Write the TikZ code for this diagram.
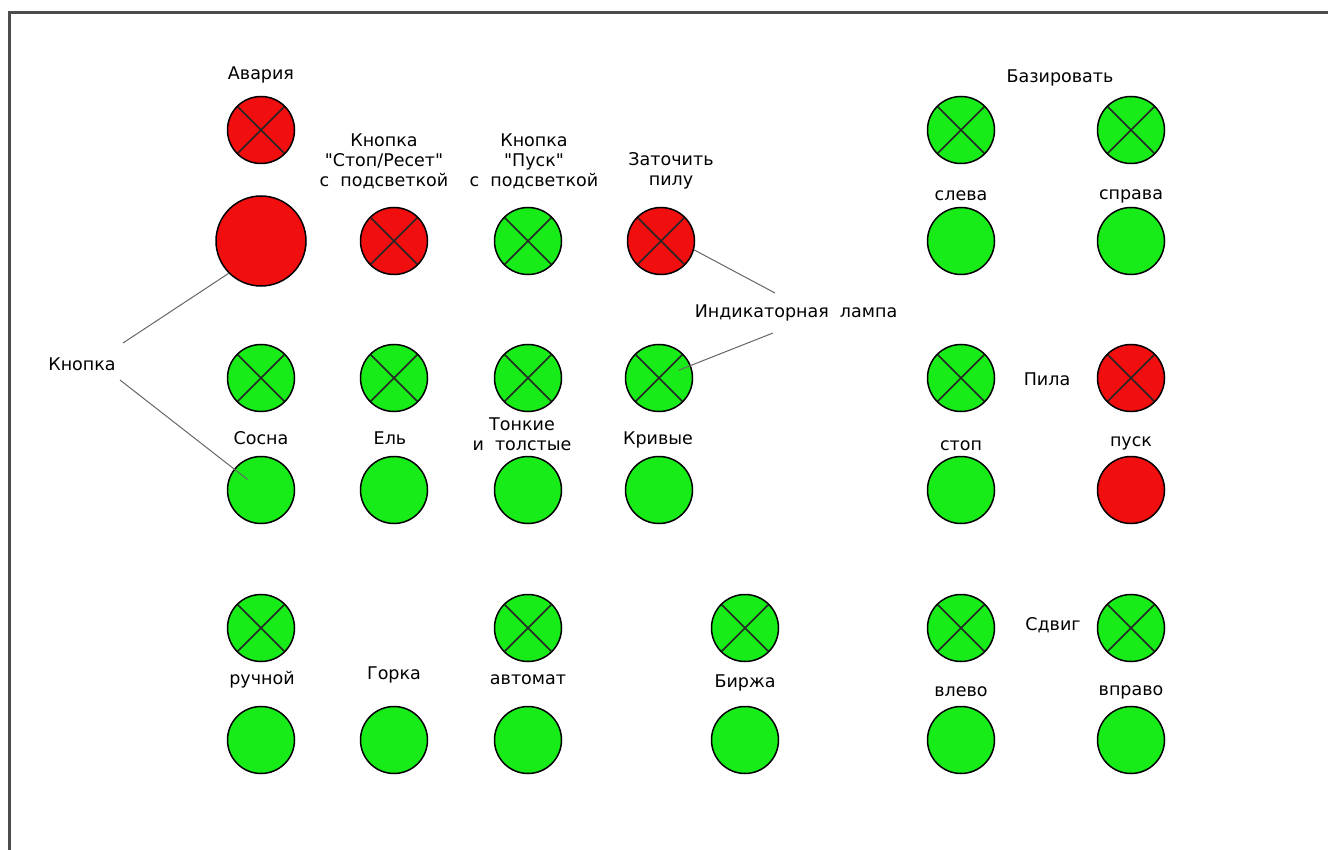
\documentclass[tikz,border=0pt]{standalone}
\usepackage{fontspec}
\setmainfont{DejaVu Sans}[Ligatures=TeXOff]
\usepackage{xcolor}
\usetikzlibrary{positioning}

\definecolor{lampred}{RGB}{240,14,14}
\definecolor{lampgreen}{RGB}{24,236,24}
\tikzset{
    knob/.style={circle, draw=black, line width=1.5pt, minimum size=67pt, inner sep=0pt},
    lamp/.style={knob, path picture={\draw[line width=1.5pt, black!85]
        (path picture bounding box.north west) -- (path picture bounding box.south east)
        (path picture bounding box.north east) -- (path picture bounding box.south west);}},
    caption/.style={font=\fontsize{17.5}{20}\selectfont, align=center, inner sep=1pt},
    lead/.style={draw=black!60, line width=1pt}
}

\begin{document}
\begin{tikzpicture}[x=1pt, y=-1pt]
                        \useasboundingbox (0,0) rectangle (1328,850);
                        \draw[line width=3pt, black!70] (1328,12.5) -- (9,12.5) -- (9,850);

                        % left block
                        \node[lamp, fill=lampred] (avaria) at (261,130) {};
                        \node[knob, fill=lampred, minimum size=90pt] (bigknob) at (261,241) {};
                        \node[lamp, fill=lampred] (stopreset) at (394,241) {};
                        \node[lamp, fill=lampgreen] (pusk) at (528,241) {};
                        \node[lamp, fill=lampred] (sharpen) at (661,241) {};

                        \foreach \x/\n in {261/a, 394/b, 528/c, 659/d} { \node[lamp, fill=lampgreen] (wood\n) at (\x,378) {}; }
                        \foreach \x/\n in {261/a, 394/b, 528/c, 659/d} { \node[knob, fill=lampgreen] (woodknob\n) at (\x,490) {}; }

                        \foreach \x/\n in {261/a, 528/c, 745/d} { \node[lamp, fill=lampgreen] (mode\n) at (\x,628) {}; }
                        \foreach \x/\n in {261/a, 394/b, 528/c, 745/d} { \node[knob, fill=lampgreen] (modeknob\n) at (\x,740) {}; }

                        % right block
                        \foreach \x/\n in {961/l, 1131/r} {
                            \node[lamp, fill=lampgreen] (base\n) at (\x,130) {};
                            \node[knob, fill=lampgreen] (baseknob\n) at (\x,241) {};
                            \node[lamp, fill=lampgreen] (shift\n) at (\x,628) {};
                            \node[knob, fill=lampgreen] (shiftknob\n) at (\x,740) {};
                        }
                        \node[lamp, fill=lampgreen] (sawl) at (961,378) {};
                        \node[lamp, fill=lampred] (sawr) at (1131,378) {};
                        \node[knob, fill=lampgreen] (sawknobl) at (961,490) {};
                        \node[knob, fill=lampred] (sawknobr) at (1131,490) {};

                        % captions
                        \node[caption] (tavaria) at (261,75) {Авария};
                        \node[caption] (tstop) at (384,161) {Кнопка\\"Стоп/Ресет"\\с\ \ подсветкой};
                        \node[caption] (tpusk) at (534,161) {Кнопка\\"Пуск"\\с\ \ подсветкой};
                        \node[caption] (tsharpen) at (671,171) {Заточить\\пилу};
                        \node[caption] (tknob) at (82,364) {Кнопка};
                        \node[caption] (tlamp) at (796,313) {Индикаторная\ \ лампа};
                        \node[caption] (tsosna) at (261,438) {Сосна};
                        \node[caption] (tel) at (390,438) {Ель};
                        \node[caption] (tthin) at (522,434) {Тонкие\\и\ \ толстые};
                        \node[caption] (tcurved) at (658,440) {Кривые};
                        \node[caption] (tmanual) at (262,680) {ручной};
                        \node[caption] (thill) at (394,675) {Горка};
                        \node[caption] (tauto) at (528,680) {автомат};
                        \node[caption] (tstock) at (745,683) {Биржа};

                        \node[caption] (tbase) at (1060,78) {Базировать};
                        \node[caption] (tleft) at (961,196) {слева};
                        \node[caption] (tright) at (1131,196) {справа};
                        \node[caption] (tsaw) at (1047,379) {Пила};
                        \node[caption] (tstopsaw) at (961,446) {стоп};
                        \node[caption] (tstartsaw) at (1131,443) {пуск};
                        \node[caption] (tshift) at (1053,625) {Сдвиг};
                        \node[caption] (tshl) at (961,692) {влево};
                        \node[caption] (tshr) at (1131,692) {вправо};

                        % leaders
                        \coordinate (kn1) at (123,343);
                        \coordinate (kn2) at (120,380);
                        \coordinate (lp1) at (775,293);
                        \coordinate (lp2) at (773,333);
                        \draw[lead] (kn1) -- (bigknob.225);
                        \draw[lead, shorten >=17pt] (kn2) -- (woodknoba.center);
                        \draw[lead] (lp1) -- (sharpen.-15);
                        \draw[lead, shorten >=21pt] (lp2) -- (woodd.center);
                    \end{tikzpicture}
\end{document}
